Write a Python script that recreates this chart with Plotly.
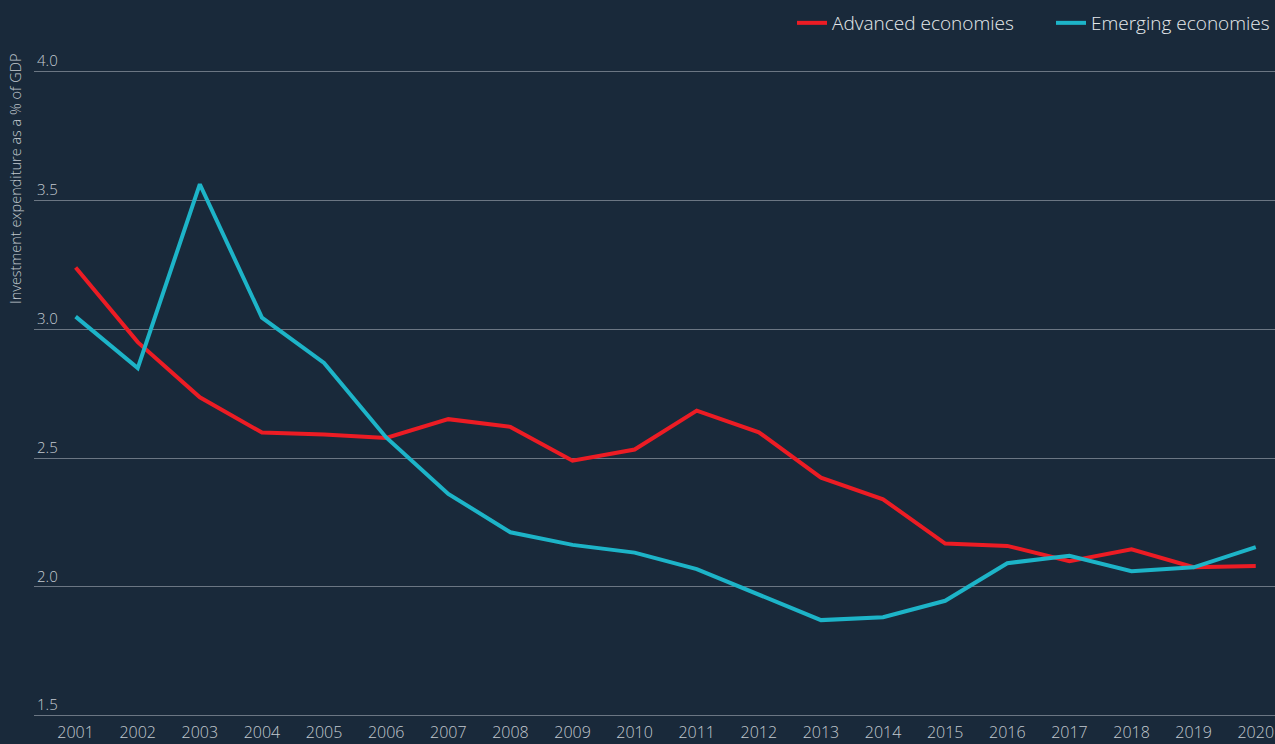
import plotly.graph_objects as go

years = list(range(2001, 2021))
advanced = [3.24, 2.95, 2.736, 2.599, 2.591, 2.578, 2.651, 2.621, 2.490, 2.533,
            2.684, 2.600, 2.424, 2.340, 2.168, 2.159, 2.100, 2.146, 2.076, 2.081]
emerging = [3.049, 2.849, 3.563, 3.045, 2.869, 2.58, 2.361, 2.212, 2.163, 2.133,
            2.069, 1.969, 1.871, 1.882, 1.946, 2.092, 2.121, 2.061, 2.076, 2.154]
y_ticks = [1.5, 2.0, 2.5, 3.0, 3.5, 4.0]
y_tick_labels = ["1.5", "2.0", "2.5", "3.0", "3.5", "4.0"]

BG = "#19293a"
TXT = "#c3c9d0"
FONT = "Open Sans"
PLOT_W = 1241
PLOT_H = 668

fig = go.Figure()
fig.add_trace(go.Scatter(x=years, y=advanced, mode="lines", name="Advanced economies",
                         line=dict(color="#ec1c24", width=4), legend="legend"))
fig.add_trace(go.Scatter(x=years, y=emerging, mode="lines", name="Emerging economies",
                         line=dict(color="#1db4c8", width=4), legend="legend2"))

legend_font = dict(size=19, color="#e6e9ec", family=FONT, weight=300)
fig.update_layout(
    width=1275, height=744,
    paper_bgcolor=BG, plot_bgcolor=BG,
    margin=dict(l=34, r=0, t=50, b=26),
    font=dict(family=FONT, color=TXT, size=15, weight=300),
    showlegend=True,
    legend=dict(orientation="h", x=(792 - 34) / PLOT_W, xanchor="left",
                y=(718 - 23) / PLOT_H, yanchor="middle", font=legend_font,
                bgcolor="rgba(0,0,0,0)"),
    legend2=dict(orientation="h", x=1.0, xanchor="right",
                 y=(718 - 23) / PLOT_H, yanchor="middle", font=legend_font,
                 bgcolor="rgba(0,0,0,0)"),
    xaxis=dict(range=[2000.33, 2020.31], tickmode="array", tickvals=years,
               ticktext=[str(y) for y in years], showgrid=False, zeroline=False,
               showline=False, ticks="", ticklabelstandoff=3, automargin=False,
               tickfont=dict(size=16, color=TXT)),
    yaxis=dict(range=[1.491, 4.084], tickmode="array", tickvals=y_ticks,
               ticktext=y_tick_labels, showgrid=True, gridcolor="#6b7683", gridwidth=1,
               zeroline=False, showline=False, ticks="", automargin=False,
               ticklabelposition="inside top", tickfont=dict(size=15, color=TXT)),
    annotations=[dict(text="Investment expenditure as a % of GDP", textangle=-90,
                      xref="paper", yref="paper", x=(16 - 34) / PLOT_W, y=(718 - 52) / PLOT_H,
                      xanchor="center", yanchor="top", showarrow=False,
                      font=dict(size=14.5, color=TXT, family=FONT, weight=300))],
)

fig.write_html("out.html", config={"displayModeBar": False},
               post_script="document.body.style.margin='0';document.body.style.padding='0';"
                           "document.body.style.background='" + BG + "';")
